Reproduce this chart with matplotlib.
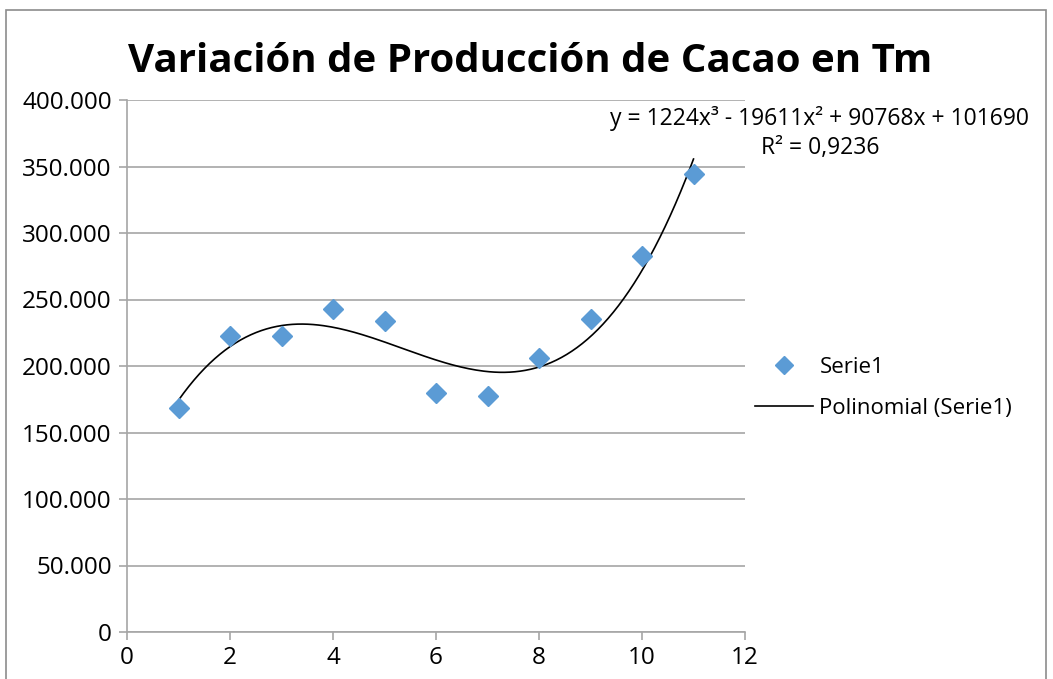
import matplotlib.pyplot as plt
import numpy as np
from matplotlib.lines import Line2D

plt.rcParams['font.family'] = ['Open Sans', 'DejaVu Sans']

# datos
periodo = [1, 2, 3, 4, 5, 6, 7, 8, 9, 10, 11]
produccion = [168400, 222500, 222500, 242900, 233800, 179700, 177400, 206000, 235300, 282700, 344400]
y_ticks = [0, 50000, 100000, 150000, 200000, 250000, 300000, 350000, 400000]
y_labels = ['0', '50.000', '100.000', '150.000', '200.000', '250.000', '300.000', '350.000', '400.000']
x_ticks = [0, 2, 4, 6, 8, 10, 12]

titulo = 'Variación de Producción de Cacao en Tm'
ecuacion = 'y = 1224x³ - 19611x² + 90768x + 101690\nR² = 0,9236'

azul = '#5B9BD5'
gris = '#A6A6A6'

fig = plt.figure(figsize=(10.53, 6.79), dpi=100)
ax = fig.add_axes([127 / 1053, 47 / 679, 618 / 1053, 532 / 679])

# borde del area del grafico
fig.patches.append(plt.Rectangle((6 / 1053, -0.05), 1040 / 1053, 1.05 - 10 / 679,
                                 transform=fig.transFigure, fill=False,
                                 edgecolor='#8C8C8C', linewidth=1.2))

# linea de tendencia polinomica grado 3
coef = np.polyfit(periodo, produccion, 3)
xs = np.linspace(periodo[0], periodo[-1], 200)
ax.plot(xs, np.polyval(coef, xs), color='black', linewidth=1.2, zorder=3)

ax.plot(periodo, produccion, linestyle='none', marker='D', markersize=10,
        color=azul, zorder=4)

ax.set_xlim(0, 12)
ax.set_ylim(0, 400000)
ax.set_xticks(x_ticks)
ax.set_yticks(y_ticks)
ax.set_yticklabels(y_labels)
ax.grid(axis='y', color=gris, linewidth=1.2)
ax.set_axisbelow(True)
for s in ['top', 'right']:
    ax.spines[s].set_visible(False)
for s in ['left', 'bottom']:
    ax.spines[s].set_color(gris)
    ax.spines[s].set_linewidth(1.2)
ax.tick_params(axis='both', colors=gris, labelcolor='black', labelsize=17.5,
               length=6, width=1.2)
ax.tick_params(axis='x', pad=4)
ax.tick_params(axis='y', pad=5)

fig.text(530 / 1053, 1 - 62 / 679, titulo, ha='center', va='center',
         fontsize=29, fontweight='bold')

fig.text(820 / 1053, 1 - 133 / 679, ecuacion, ha='center', va='center',
         fontsize=16.5, linespacing=1.3)

handles = [Line2D([], [], linestyle='none', marker='D', markersize=9, color=azul),
           Line2D([], [], color='black', linewidth=1.2)]
fig.legend(handles, ['Serie1', 'Polinomial (Serie1)'], loc='center left',
           bbox_to_anchor=(735 / 1053, 1 - 388 / 679), frameon=False,
           fontsize=16, handlelength=2.6, handletextpad=0.3, labelspacing=0.9)

fig.savefig('out.png', dpi=100)
